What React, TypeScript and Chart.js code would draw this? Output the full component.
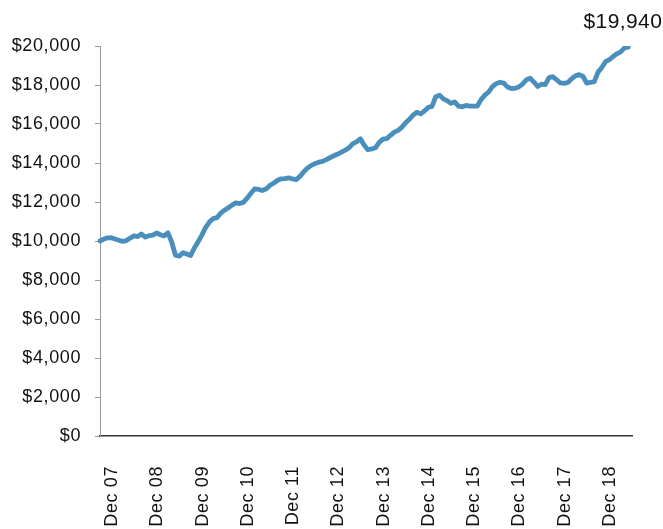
import { useEffect, useRef } from 'react';
import { Chart, registerables } from 'chart.js';

Chart.register(...registerables);

// Year-end tick labels (one per 12 monthly points)
const tickLabels = ['Dec 07', 'Dec 08', 'Dec 09', 'Dec 10', 'Dec 11', 'Dec 12', 'Dec 13', 'Dec 14', 'Dec 15', 'Dec 16', 'Dec 17', 'Dec 18'];

// Monthly portfolio value (USD), Dec 2007 onwards
const values = [
  10000, 10100, 10160, 10170, 10100, 10040, 9980, 10020, 10150, 10260, 10230, 10360,
  10200, 10270, 10300, 10410, 10320, 10260, 10420, 9950, 9270, 9220, 9400, 9330,
  9250, 9640, 9960, 10300, 10700, 10970, 11150, 11200, 11430, 11580, 11710, 11840,
  11960, 11920, 11980, 12200, 12450, 12670, 12650, 12590, 12670, 12850, 12960, 13100,
  13190, 13200, 13240, 13180, 13150, 13310, 13550, 13740, 13880, 13970, 14040, 14080,
  14170, 14280, 14370, 14460, 14560, 14660, 14780, 14990, 15080, 15240, 14920, 14680,
  14720, 14780, 15060, 15220, 15250, 15420, 15580, 15670, 15830, 16060, 16240, 16460,
  16600, 16520, 16670, 16850, 16900, 17400, 17480, 17290, 17200, 17060, 17130, 16920,
  16880, 16950, 16920, 16920, 16920, 17250, 17480, 17640, 17920, 18070, 18140, 18100,
  17900, 17820, 17830, 17900, 18050, 18270, 18350, 18150, 17920, 18040, 18020, 18380,
  18430, 18270, 18110, 18080, 18130, 18320, 18470, 18530, 18450, 18100, 18140, 18170,
  18660, 18900, 19200, 19300, 19460, 19600, 19700, 19900, 19940,
];

const yMin = 0;
const yMax = 20000;
const yStep = 2000;

const FONT = '"Liberation Sans", Arial, Helvetica, sans-serif';
const LINE_COLOR = '#4a8fbc';

const fmt = (v: number) => '$' + Number(v).toLocaleString('en-US');

export default function App() {
  const ref = useRef<HTMLCanvasElement>(null);

  useEffect(() => {
    if (!ref.current) return;
    const labels = values
      .map((_, i) => (i % 12 === 0 ? tickLabels[i / 12] ?? '' : ''))
      .concat(['']);
    const data: (number | null)[] = [...values, null];

    const spacing = {
      id: 'spacing',
      beforeDraw(chart: any) {
        (chart.ctx as any).letterSpacing = '0.6px';
      },
    };

    const endLabel = {
      id: 'endLabel',
      afterDatasetsDraw(chart: any) {
        const meta = chart.getDatasetMeta(0);
        const pt = meta.data[values.length - 1];
        if (!pt) return;
        const ctx = chart.ctx;
        ctx.save();
        ctx.letterSpacing = '0.4px';
        ctx.font = `21px ${FONT}`;
        ctx.fillStyle = '#111';
        ctx.textAlign = 'right';
        ctx.textBaseline = 'alphabetic';
        ctx.fillText(fmt(values[values.length - 1]), pt.x + 34, pt.y - 19);
        ctx.restore();
      },
    };

    const chart = new Chart(ref.current, {
      type: 'line',
      data: {
        labels,
        datasets: [
          {
            data,
            borderColor: LINE_COLOR,
            borderWidth: 4.8,
            pointRadius: 0,
            tension: 0,
            fill: false,
            borderJoinStyle: 'round',
            borderCapStyle: 'round',
          },
        ],
      },
      options: {
        animation: false,
        responsive: false,
        maintainAspectRatio: false,
        layout: { padding: { top: 46, right: 31, left: 0, bottom: 0 } },
        plugins: { legend: { display: false }, tooltip: { enabled: false }, title: { display: false } },
        scales: {
          x: {
            type: 'category',
            offset: false,
            grid: { display: false },
            border: { display: true, color: '#333', width: 1.5 },
            ticks: {
              autoSkip: false,
              maxRotation: 90,
              minRotation: 90,
              padding: 22,
              labelOffset: 12,
              color: '#111',
              font: { size: 18, family: FONT },
            },
            afterFit: (s: any) => {
              s.height = 93;
              s.paddingLeft = 0;
              s.paddingRight = 0;
              s.paddingTop = 0;
              s.paddingBottom = 0;
            },
          },
          y: {
            min: yMin,
            max: yMax,
            ticks: {
              stepSize: yStep,
              padding: 14,
              color: '#111',
              font: { size: 18, family: FONT },
              callback: (v: any) => fmt(Number(v)),
            },
            grid: { drawOnChartArea: false, drawTicks: true, tickLength: 5, color: '#999' },
            border: { color: '#999', width: 1 },
            afterFit: (s: any) => {
              s.width = 100;
              s.paddingTop = 0;
              s.paddingBottom = 0;
            },
          },
        },
      },
      plugins: [spacing, endLabel],
    } as any);

    return () => chart.destroy();
  }, []);

  return (
    <div style={{ position: 'fixed', left: 0, top: 0, width: 663, height: 529, background: '#fff' }}>
      <canvas ref={ref} width={663} height={529} style={{ display: 'block', width: 663, height: 529 }} />
    </div>
  );
}
